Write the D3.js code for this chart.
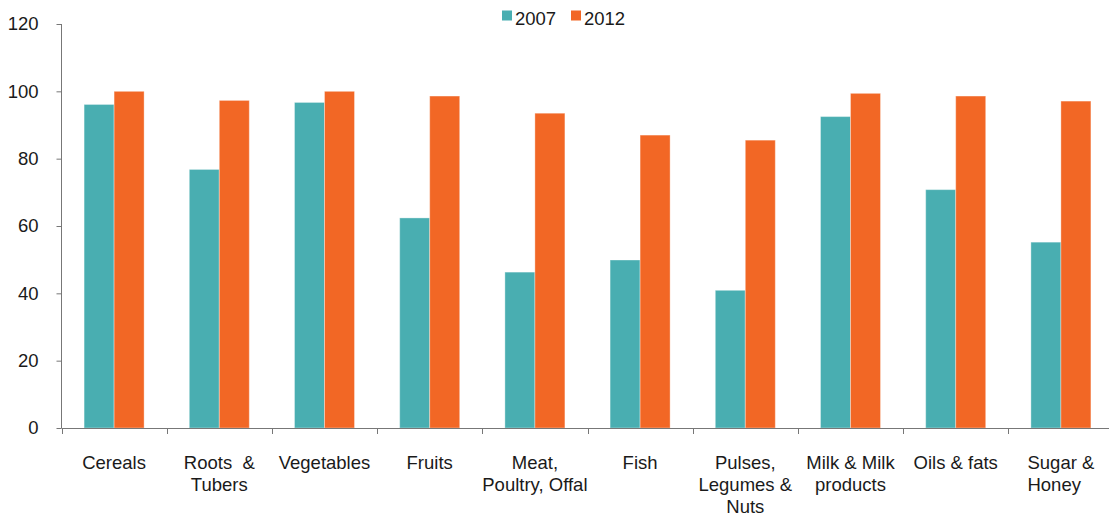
<!DOCTYPE html>
<html><head><meta charset="utf-8">
<script src="https://cdn.jsdelivr.net/npm/d3@7"></script>
<style>
html,body{margin:0;padding:0;background:#fff;}
svg text{font-family:"Liberation Sans",Arial,sans-serif;fill:#1a1a1a;}
</style></head>
<body>
<svg id="c" width="1109" height="516"></svg>
<script>
const categories = [
  ["Cereals"],
  ["Roots  &", "Tubers"],
  ["Vegetables"],
  ["Fruits"],
  ["Meat,", "Poultry, Offal"],
  ["Fish"],
  ["Pulses,", "Legumes &", "Nuts"],
  ["Milk & Milk", "products"],
  ["Oils & fats"],
  ["Sugar &", "Honey"]
];
const series = ["2007", "2012"];
const values2007 = [96.1, 76.8, 96.7, 62.4, 46.3, 49.9, 40.9, 92.5, 70.8, 55.2];
const values2012 = [100, 97.3, 100, 98.6, 93.5, 87.0, 85.5, 99.4, 98.6, 97.1];
const yTicks = [0, 20, 40, 60, 80, 100, 120];
const colors = ["#49AEB1", "#F26725"];

const svg = d3.select("#c");
const x0 = d3.scaleBand().domain(d3.range(categories.length)).range([61.5, 1113.5]).paddingInner(0).paddingOuter(0);
const x1 = d3.scaleBand().domain(series).range([x0.bandwidth()/2 - 30, x0.bandwidth()/2 + 30]);
const y = d3.scaleLinear().domain([0, 120]).range([428, 24]);

const data = [values2007, values2012];

// bars
const g = svg.append("g");
categories.forEach((c, i) => {
  series.forEach((s, j) => {
    const v = data[j][i];
    g.append("rect")
      .attr("x", x0(i) + x1(s))
      .attr("y", y(v))
      .attr("width", x1.bandwidth())
      .attr("height", y(0) - y(v))
      .attr("fill", colors[j])
      .attr("stroke", "#fff")
      .attr("stroke-opacity", 0.35)
      .attr("stroke-width", 1);
  });
});

// y axis
const yAxis = d3.axisLeft(y).tickValues(yTicks).tickSize(5).tickPadding(18);
const ya = svg.append("g").attr("transform", "translate(61.5,0)").call(yAxis);
ya.select(".domain").attr("stroke", "#777").attr("d", "M0," + y(120) + "V" + y(0));
ya.selectAll(".tick line").attr("stroke", "#777");
ya.selectAll(".tick text").attr("font-size", 18.5).attr("fill", "#1a1a1a")
  .style("font-family", '"Liberation Sans",Arial,sans-serif');

// x axis (ticks at band boundaries)
const boundaries = d3.range(categories.length + 1).map(i => i < categories.length ? x0(i) : x0(i-1) + x0.step());
const xa = svg.append("g");
xa.append("line").attr("x1", 61.5).attr("x2", 1113.5).attr("y1", 428.5).attr("y2", 428.5).attr("stroke", "#777");
xa.selectAll("line.t").data(boundaries).join("line").attr("class", "t")
  .attr("x1", d => Math.round(d) + 0.5).attr("x2", d => Math.round(d) + 0.5)
  .attr("y1", 428).attr("y2", 434).attr("stroke", "#777");

// x labels
categories.forEach((lines, i) => {
  const cx = x0(i) + x0.bandwidth()/2;
  const t = svg.append("text").attr("font-size", 18.5).attr("text-anchor", "middle");
  lines.forEach((ln, k) => {
    t.append("tspan").attr("x", cx).attr("y", 469 + k * 22).text(ln).attr("xml:space", "preserve").style("white-space", "pre");
  });
  if (i === categories.length - 1) {
    const w = t.select("tspan").node().getComputedTextLength();
    t.attr("text-anchor", "start");
    t.selectAll("tspan").attr("x", cx - w/2);
  }
});

// legend
const leg = svg.append("g");
const legX = [502, 571];
series.forEach((s, j) => {
  leg.append("rect").attr("x", legX[j]).attr("y", 10.5).attr("width", 10).attr("height", 10).attr("fill", colors[j]);
  leg.append("text").attr("x", legX[j] + 13).attr("y", 25).attr("font-size", 18.5).text(s);
});
</script>
</body></html>
